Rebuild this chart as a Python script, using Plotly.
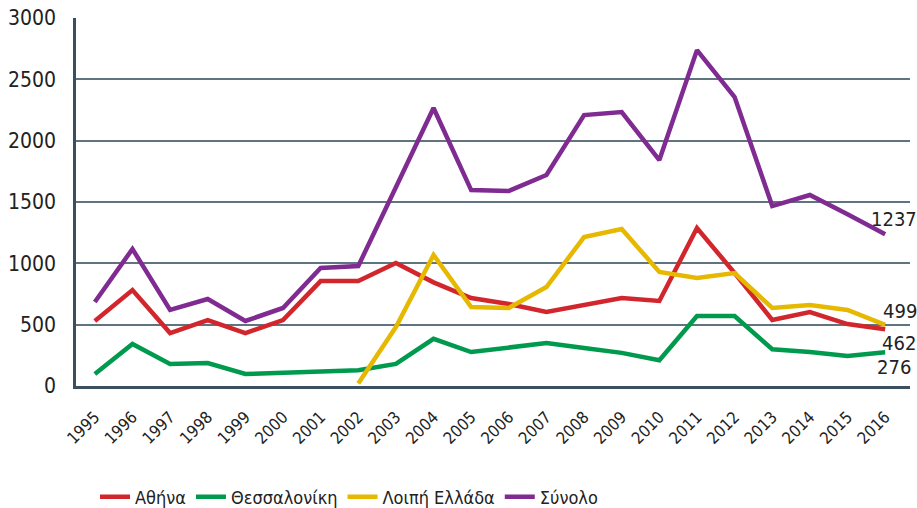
import plotly.graph_objects as go

years = list(range(1995, 2017))
athina = [530, 782, 432, 538, 432, 538, 855, 855, 1002, 845, 717, 668, 603, 660, 717, 693, 1288, 921, 538, 603, 505, 462]
thessaloniki = [98, 342, 179, 187, 98, 108, 118, 128, 180, 385, 277, 315, 350, 310, 270, 210, 570, 570, 300, 277, 245, 276]
loipi = [None, None, None, None, None, None, None, 20, 481, 1068, 644, 636, 807, 1214, 1280, 930, 880, 921, 636, 660, 620, 499]
synolo = [685, 1117, 620, 709, 530, 636, 962, 978, 1620, 2266, 1597, 1590, 1720, 2209, 2233, 1842, 2738, 2355, 1467, 1557, 1400, 1237]
y_ticks = [0, 500, 1000, 1500, 2000, 2500, 3000]

names = ["Αθήνα", "Θεσσαλονίκη", "Λοιπή Ελλάδα", "Σύνολο"]
colors = ["#d2262d", "#009a4e", "#e6b800", "#7f2b91"]
series = [athina, thessaloniki, loipi, synolo]

font = "DejaVu Sans Condensed, DejaVu Sans, sans-serif"

fig = go.Figure()
for n, c, s in zip(names, colors, series):
    fig.add_trace(go.Scatter(x=years, y=s, name=n, mode="lines",
                             line=dict(color=c, width=4.5), connectgaps=False))

# end labels: (value, yshift)
end_labels = [(synolo[-1], 15), (loipi[-1], 14), (athina[-1], -14), (thessaloniki[-1], -15)]
xs = [9, 9, 8, 3]
for (v, dy), dx in zip(end_labels, xs):
    fig.add_annotation(x=1, xref="paper", xanchor="right", xshift=dx,
                       y=v, yref="y", yshift=dy, text=str(v), showarrow=False,
                       font=dict(size=20, color="#222", family=font))

fig.update_layout(
    width=917, height=508,
    margin=dict(l=76, r=7, t=18, b=122, autoexpand=False),
    plot_bgcolor="white", paper_bgcolor="white",
    font=dict(family=font, color="#222"),
    showlegend=True,
    legend=dict(orientation="h", x=0.0228, xanchor="left", y=-0.3016, yanchor="middle",
                font=dict(size=18, color="#222", family=font)),
    xaxis=dict(range=[1994.5, 2016.66], tickmode="array", tickvals=years,
               ticktext=[str(y) for y in years], tickangle=-45, automargin=False,
               tickfont=dict(size=16.5, color="#222", family=font), showgrid=False,
               showline=True, linecolor="#3a5060", linewidth=3, ticks="", zeroline=False,
               ticklabelstandoff=12),
    yaxis=dict(range=[0, 3000], tickvals=y_ticks, automargin=False,
               tickfont=dict(size=21, color="#222", family=font), showgrid=True,
               gridcolor="#5f7480", gridwidth=1.5, showline=True, linecolor="#3a5060",
               linewidth=2.5, zeroline=False, ticks="", ticklabelstandoff=13),
)
fig.write_html("out.html", config={"displayModeBar": False},
               post_script="document.body.style.margin='0';document.body.style.overflow='hidden';")
